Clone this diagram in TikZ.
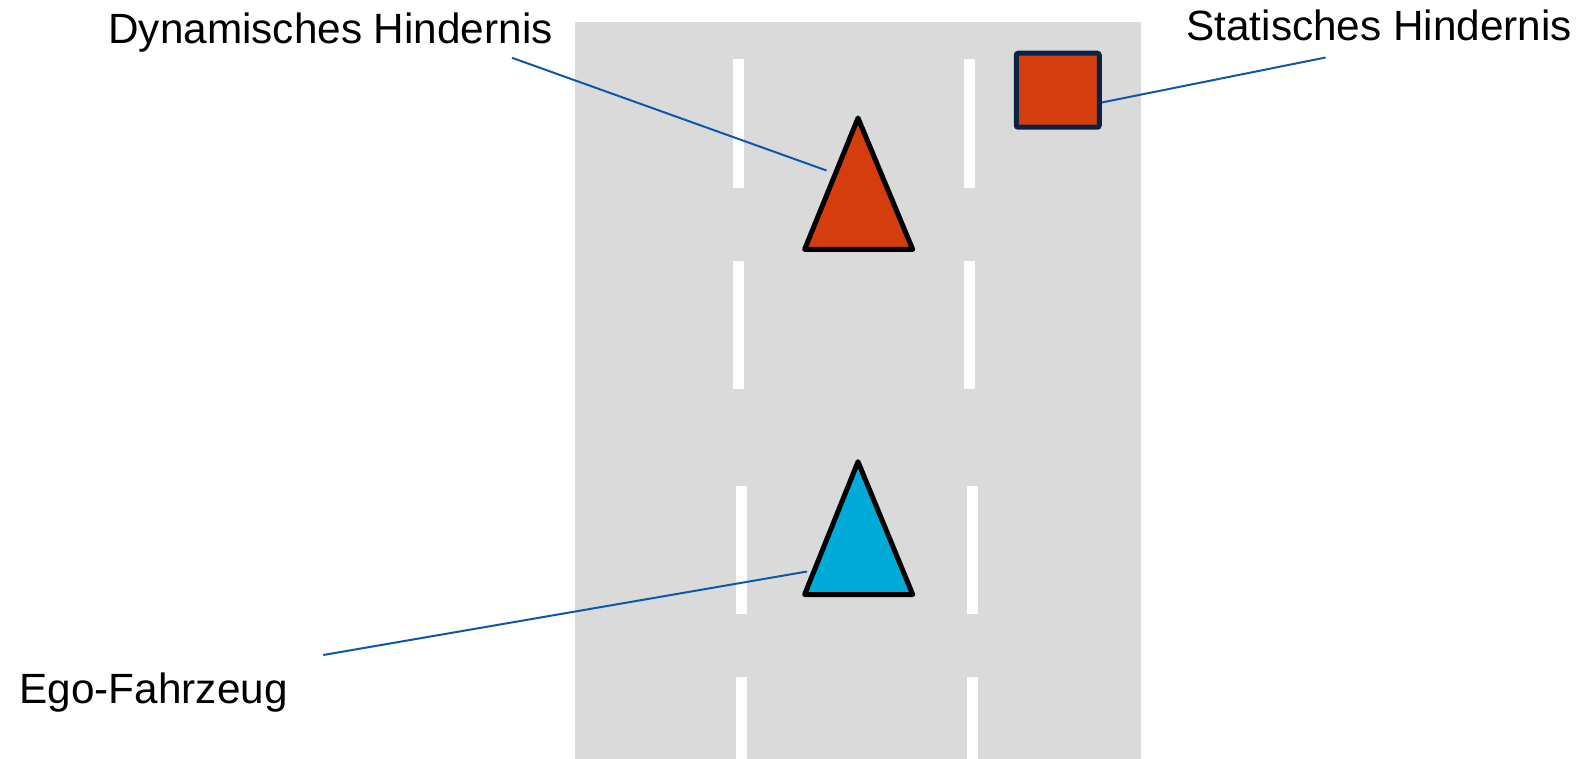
\documentclass[tikz,border=0pt]{standalone}
\usepackage{fontspec}
\setmainfont{Liberation Sans}
\definecolor{road}{RGB}{218,218,218}
\definecolor{obst}{RGB}{212,62,15}
\definecolor{ego}{RGB}{0,171,216}
\definecolor{navy}{RGB}{12,34,66}
\definecolor{lead}{RGB}{14,88,168}
\tikzset{
  lbl/.style={anchor=base west, inner sep=0pt, font=\fontsize{21.15pt}{25pt}\selectfont, text=black},
  dashmark/.style={fill=white, draw=none},
  leader/.style={draw=lead, line width=1pt},
  tri/.style={draw=black, line width=2.5pt, line join=round},
}
\begin{document}
\begin{tikzpicture}[x=0.5pt,y=-0.5pt]
\useasboundingbox (0,0) rectangle (1583,759);
% road
\fill[road] (574.5,22.2) rectangle (1141,759);
% lane markings
\foreach \ya/\yb/\xl/\xr in {58.6/187.8/738.5/969, 260.5/388.7/738.5/969, 485.6/613.8/741/972, 677.4/759/741/972}{
  \fill[dashmark] (\xl-5.5,\ya) rectangle (\xl+5.5,\yb);
  \fill[dashmark] (\xr-5.5,\ya) rectangle (\xr+5.5,\yb);
}
% dynamic obstacle
\coordinate (dynA) at (858,118);
\coordinate (dynL) at (804.6,249.4);
\coordinate (dynR) at (912.7,249.4);
\filldraw[tri, fill=obst] (dynA) -- (dynL) -- (dynR) -- cycle;
% ego vehicle
\coordinate (egoA) at (858,461.7);
\coordinate (egoL) at (804.6,594.5);
\coordinate (egoR) at (912.7,594.5);
\filldraw[tri, fill=ego] (egoA) -- (egoL) -- (egoR) -- cycle;
% static obstacle
\node (stat) [draw=navy, fill=obst, line width=2.5pt, rounded corners=1pt, minimum width=41.5pt, minimum height=37pt, inner sep=0pt] at (1057.75,90.25) {};
% labels
\node (dynlbl) [lbl] at (108,43.4) {Dynamisches Hindernis};
\node (statlbl) [lbl] at (1186,40.4) {Statisches Hindernis};
\node (egolbl) [lbl] at (19.2,703.7) {Ego-Fahrzeug};
% leader line ends
\coordinate (dynS) at (512,57.8);
\coordinate (dynE) at (826.5,170.5);
\coordinate (statE) at (1325.6,57.5);
\coordinate (egoS) at (323.3,655);
\coordinate (egoE) at (807,571.5);
\draw[leader] (dynS) -- (dynE);
\draw[leader] (stat.east |- 0,102.5) -- (statE);
\draw[leader] (egoS) -- (egoE);
\end{tikzpicture}
\end{document}
